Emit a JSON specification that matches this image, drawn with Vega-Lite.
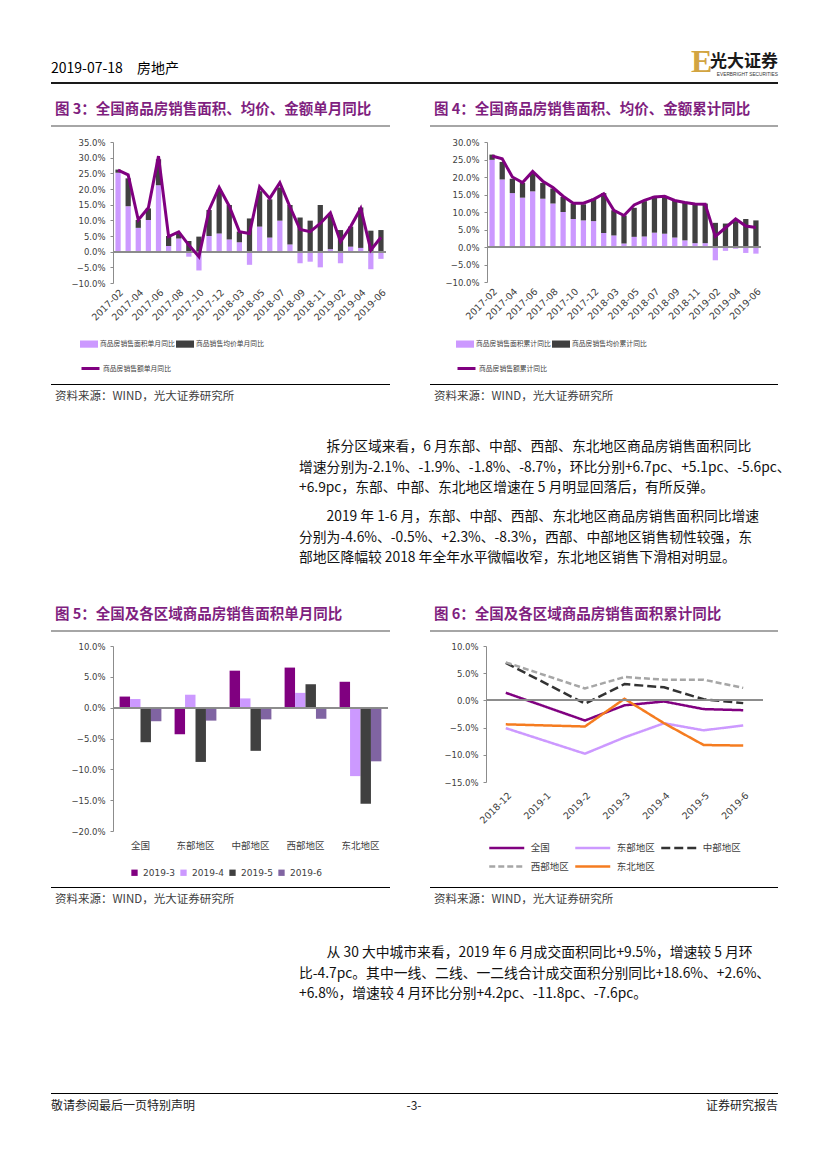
{
"$schema": "https://vega.github.io/schema/vega-lite/v6.json",
"background": "white",
"padding": 0,
"spacing": 0,
"bounds": "flush",
"resolve": {"scale": {"color": "independent", "stroke": "independent", "strokeDash": "independent"}, "legend": {"color": "independent", "stroke": "independent", "strokeDash": "independent"}},
"config": {
  "view": {"stroke": null},
  "font": "Noto Sans CJK SC",
  "title": {"anchor": "start", "frame": "group", "fontWeight": "normal", "font": "Noto Sans CJK SC", "color": "#000000"},
  "axis": {"labelFont": "DejaVu Sans", "labelColor": "#404040", "labelOverlap": false},
  "legend": {"labelFont": "Noto Sans CJK SC", "labelColor": "#404040", "padding": 0}
},
"vconcat": [
  {"width": 827, "height": 82, "view": {"fill": "white", "stroke": null}, "data": {"values": [{}]}, "mark": {"type": "point", "opacity": 0}, "encoding": {}},
  {"hconcat": [
    {"width": 48, "height": 2, "data": {"values": [{}]}, "mark": {"type": "point", "opacity": 0}, "encoding": {}},
    {"width": 640, "height": 2, "view": {"fill": "#1a1a1a", "stroke": null}, "title": {"text": "2019-07-18\u3000房地产", "offset": 4, "font": "Liberation Sans Narrow, Noto Sans CJK SC", "fontSize": 14}, "data": {"values": [{}]}, "mark": {"type": "point", "opacity": 0}, "encoding": {}},
    {"width": 15, "height": 2, "view": {"fill": "#1a1a1a", "stroke": null}, "title": {"text": "E", "offset": 1, "font": "Liberation Sans Narrow", "fontSize": 32, "fontWeight": "bold", "color": "#D2A441"}, "data": {"values": [{}]}, "mark": {"type": "point", "opacity": 0}, "encoding": {}},
    {"width": 72, "height": 2, "view": {"fill": "#1a1a1a", "stroke": null}, "title": {"text": "光大证券", "subtitle": "EVERBRIGHT SECURITIES", "anchor": "end", "offset": 2, "fontSize": 17, "fontWeight": "bold", "color": "#1a1a1a", "subtitleFont": "Liberation Sans", "subtitleFontSize": 4.8, "subtitleColor": "#333333", "subtitlePadding": 1}, "data": {"values": [{}]}, "mark": {"type": "point", "opacity": 0}, "encoding": {}}
  ], "spacing": 0, "bounds": "flush"},
  {"width": 1, "height": 43, "data": {"values": [{}]}, "mark": {"type": "point", "opacity": 0}, "encoding": {}},
  {"hconcat": [
    {"width": 8, "height": 2, "data": {"values": [{}]}, "mark": {"type": "point", "opacity": 0}, "encoding": {}},
    {"width": 339, "height": 2, "view": {"fill": "#A6A6A6", "stroke": null}, "title": {"text": "图 3：全国商品房销售面积、均价、金额单月同比", "offset": 6, "dx": 4, "fontSize": 14.5, "fontWeight": "bold", "color": "#7F1F7F"}, "data": {"values": [{}]}, "mark": {"type": "point", "opacity": 0}, "encoding": {}},
    {"width": 348, "height": 2, "view": {"fill": "#A6A6A6", "stroke": null}, "title": {"text": "图 4：全国商品房销售面积、均价、金额累计同比", "offset": 6, "dx": 4, "fontSize": 14.5, "fontWeight": "bold", "color": "#7F1F7F"}, "data": {"values": [{}]}, "mark": {"type": "point", "opacity": 0}, "encoding": {}}
  ], "spacing": 40, "bounds": "flush"},
  {"width": 1, "height": 17, "data": {"values": [{}]}, "mark": {"type": "point", "opacity": 0}, "encoding": {}},
  {"hconcat": [
    {"width": 9, "height": 1, "data": {"values": [{}]}, "mark": {"type": "point", "opacity": 0}, "encoding": {}},
    {"width": 273, "height": 141,
     "data": {"values": [
      {"m":"2017-02","area":25.2,"price":1.0,"amount":26.0},
      {"m":"2017-03","area":14.5,"price":8.9,"amount":24.5},
      {"m":"2017-04","area":7.6,"price":2.5,"amount":10.1},
      {"m":"2017-05","area":10.1,"price":3.7,"amount":14.0},
      {"m":"2017-06","area":21.2,"price":8.3,"amount":30.5},
      {"m":"2017-07","area":1.8,"price":3.2,"amount":4.8},
      {"m":"2017-08","area":4.2,"price":1.6,"amount":6.3},
      {"m":"2017-09","area":-1.6,"price":3.4,"amount":2.1},
      {"m":"2017-10","area":-6.0,"price":4.8,"amount":-1.6},
      {"m":"2017-11","area":5.0,"price":8.3,"amount":13.3},
      {"m":"2017-12","area":5.8,"price":14.1,"amount":20.5},
      {"m":"2018-02","area":3.9,"price":11.0,"amount":14.5},
      {"m":"2018-03","area":3.0,"price":3.4,"amount":6.4},
      {"m":"2018-04","area":-4.2,"price":10.6,"amount":5.8},
      {"m":"2018-05","area":8.0,"price":11.3,"amount":20.7},
      {"m":"2018-06","area":4.5,"price":12.2,"amount":17.0},
      {"m":"2018-07","area":9.9,"price":10.6,"amount":22.0},
      {"m":"2018-08","area":2.3,"price":12.6,"amount":14.3},
      {"m":"2018-09","area":-3.7,"price":10.9,"amount":7.1},
      {"m":"2018-10","area":-3.2,"price":9.9,"amount":6.4},
      {"m":"2018-11","area":-5.0,"price":14.9,"amount":9.0},
      {"m":"2018-12","area":0.8,"price":10.9,"amount":12.4},
      {"m":"2019-02","area":-3.7,"price":6.9,"amount":3.2},
      {"m":"2019-03","area":1.6,"price":6.4,"amount":8.0},
      {"m":"2019-04","area":1.2,"price":12.9,"amount":13.8},
      {"m":"2019-05","area":-5.6,"price":6.7,"amount":0.5},
      {"m":"2019-06","area":-2.3,"price":6.9,"amount":4.6}
     ]},
     "resolve": {"axis": {"y": "independent"}},
     "layer": [
      {"transform": [{"fold": ["area", "price"], "as": ["s", "v"]}],
       "mark": {"type": "bar"},
       "encoding": {
        "x": {"field": "m", "type": "ordinal", "scale": {"paddingInner": 0.48, "paddingOuter": 0.24},
              "axis": {"title": null, "domain": false, "ticks": false, "labelAngle": -45, "labelFontSize": 9.5, "labelPadding": 4, "labelOverlap": false,
                       "values": ["2017-02","2017-04","2017-06","2017-08","2017-10","2017-12","2018-03","2018-05","2018-07","2018-09","2018-11","2019-02","2019-04","2019-06"]}},
        "y": {"field": "v", "type": "quantitative", "scale": {"domain": [-10, 35], "nice": false, "zero": false},
              "axis": {"title": null, "grid": false, "domainColor": "#8c8c8c", "tickColor": "#8c8c8c", "tickSize": 3, "labelFontSize": 8.5, "labelPadding": 5, "labelOverlap": false, "values": [-10,-5,0,5,10,15,20,25,30,35], "labelExpr": "format(datum.value, '.1f') + '%'"}},
        "order": {"field": "s", "type": "ordinal", "sort": "ascending"},
        "color": {"field": "s", "type": "nominal", "scale": {"domain": ["area", "price"], "range": ["#CC99FF", "#404040"]},
                  "legend": {"title": null, "orient": "none", "legendX": -33, "legendY": 193, "direction": "horizontal", "symbolType": "M-1,-0.4H1V0.4H-1Z", "symbolSize": 324, "symbolStrokeWidth": 0, "labelFontSize": 6.8, "labelOffset": 2, "columnPadding": 1, "labelLimit": 300,
                             "labelExpr": "datum.label == 'area' ? '商品房销售面积单月同比' : '商品销售均价单月同比'"}}
       }},
      {"mark": {"type": "rule", "color": "#8c8c8c", "strokeWidth": 1}, "encoding": {"y": {"datum": 0, "axis": null}}},
      {"mark": {"type": "line", "strokeWidth": 3},
       "encoding": {
        "x": {"field": "m", "type": "ordinal"},
        "y": {"field": "amount", "type": "quantitative", "axis": null},
        "stroke": {"datum": "商品房销售额单月同比", "type": "nominal", "scale": {"range": ["#800080"]},
                   "legend": {"title": null, "orient": "none", "legendX": -33, "legendY": 216, "symbolType": "stroke", "symbolSize": 324, "symbolStrokeWidth": 3, "labelFontSize": 6.8, "labelOffset": 2, "labelLimit": 300}}
       }}
     ]},
    {"width": 274, "height": 140,
     "data": {"values": [
      {"m":"2017-02","area":24.9,"price":1.5,"amount":26.0},
      {"m":"2017-03","area":19.3,"price":5.0,"amount":25.2},
      {"m":"2017-04","area":15.4,"price":4.1,"amount":20.0},
      {"m":"2017-05","area":14.1,"price":4.2,"amount":18.4},
      {"m":"2017-06","area":15.9,"price":5.2,"amount":21.6},
      {"m":"2017-07","area":13.8,"price":4.5,"amount":18.8},
      {"m":"2017-08","area":12.4,"price":4.3,"amount":17.0},
      {"m":"2017-09","area":10.0,"price":4.3,"amount":14.5},
      {"m":"2017-10","area":8.0,"price":4.4,"amount":12.5},
      {"m":"2017-11","area":7.6,"price":4.6,"amount":12.5},
      {"m":"2017-12","area":7.4,"price":6.4,"amount":13.6},
      {"m":"2018-02","area":4.0,"price":11.4,"amount":15.2},
      {"m":"2018-03","area":3.3,"price":7.2,"amount":10.5},
      {"m":"2018-04","area":1.0,"price":8.0,"amount":9.0},
      {"m":"2018-05","area":2.9,"price":8.3,"amount":12.0},
      {"m":"2018-06","area":3.0,"price":10.1,"amount":13.3},
      {"m":"2018-07","area":4.1,"price":10.5,"amount":14.3},
      {"m":"2018-08","area":3.8,"price":10.8,"amount":14.5},
      {"m":"2018-09","area":2.7,"price":10.6,"amount":13.3},
      {"m":"2018-10","area":1.9,"price":11.0,"amount":12.7},
      {"m":"2018-11","area":1.1,"price":11.3,"amount":12.3},
      {"m":"2018-12","area":1.1,"price":11.3,"amount":12.2},
      {"m":"2019-02","area":-3.8,"price":6.9,"amount":3.0},
      {"m":"2019-03","area":-1.1,"price":6.7,"amount":5.5},
      {"m":"2019-04","area":-0.5,"price":7.4,"amount":8.0},
      {"m":"2019-05","area":-1.7,"price":8.0,"amount":6.0},
      {"m":"2019-06","area":-1.9,"price":7.6,"amount":5.6}
     ]},
     "resolve": {"axis": {"y": "independent"}},
     "layer": [
      {"transform": [{"fold": ["area", "price"], "as": ["s", "v"]}],
       "mark": {"type": "bar"},
       "encoding": {
        "x": {"field": "m", "type": "ordinal", "scale": {"paddingInner": 0.48, "paddingOuter": 0.24},
              "axis": {"title": null, "domain": false, "ticks": false, "labelAngle": -45, "labelFontSize": 9.5, "labelPadding": 4, "labelOverlap": false,
                       "values": ["2017-02","2017-04","2017-06","2017-08","2017-10","2017-12","2018-03","2018-05","2018-07","2018-09","2018-11","2019-02","2019-04","2019-06"]}},
        "y": {"field": "v", "type": "quantitative", "scale": {"domain": [-10, 30], "nice": false, "zero": false},
              "axis": {"title": null, "grid": false, "domainColor": "#8c8c8c", "tickColor": "#8c8c8c", "tickSize": 3, "labelFontSize": 8.5, "labelPadding": 5, "labelOverlap": false, "values": [-10,-5,0,5,10,15,20,25,30], "labelExpr": "format(datum.value, '.1f') + '%'"}},
        "order": {"field": "s", "type": "ordinal", "sort": "ascending"},
        "color": {"field": "s", "type": "nominal", "scale": {"domain": ["area", "price"], "range": ["#CC99FF", "#404040"]},
                  "legend": {"title": null, "orient": "none", "legendX": -31, "legendY": 193, "direction": "horizontal", "symbolType": "M-1,-0.4H1V0.4H-1Z", "symbolSize": 324, "symbolStrokeWidth": 0, "labelFontSize": 6.8, "labelOffset": 2, "columnPadding": 1, "labelLimit": 300,
                             "labelExpr": "datum.label == 'area' ? '商品房销售面积累计同比' : '商品房销售均价累计同比'"}}
       }},
      {"mark": {"type": "rule", "color": "#8c8c8c", "strokeWidth": 1}, "encoding": {"y": {"datum": 0, "axis": null}}},
      {"mark": {"type": "line", "strokeWidth": 3},
       "encoding": {
        "x": {"field": "m", "type": "ordinal"},
        "y": {"field": "amount", "type": "quantitative", "axis": null},
        "stroke": {"datum": "商品房销售额累计同比", "type": "nominal", "scale": {"range": ["#800080"]},
                   "legend": {"title": null, "orient": "none", "legendX": -31, "legendY": 216, "symbolType": "stroke", "symbolSize": 324, "symbolStrokeWidth": 3, "labelFontSize": 6.8, "labelOffset": 2, "labelLimit": 300}}
       }}
     ]}
  ], "spacing": 101, "bounds": "flush",
  "resolve": {"scale": {"color": "independent", "stroke": "independent"}, "legend": {"color": "independent", "stroke": "independent"}}},
  {"width": 1, "height": 242, "data": {"values": [{}]}, "mark": {"type": "point", "opacity": 0}, "encoding": {}},
  {"hconcat": [
    {"width": 8, "height": 1, "data": {"values": [{}]}, "mark": {"type": "point", "opacity": 0}, "encoding": {}},
    {"width": 339, "height": 1, "view": {"fill": "#000000", "stroke": null}, "title": {"text": "资料来源：WIND，光大证券研究所", "orient": "bottom", "offset": 4, "dx": 4, "fontSize": 11.5, "color": "#404040"}, "data": {"values": [{}]}, "mark": {"type": "point", "opacity": 0}, "encoding": {}},
    {"width": 348, "height": 1, "view": {"fill": "#000000", "stroke": null}, "title": {"text": "资料来源：WIND，光大证券研究所", "orient": "bottom", "offset": 4, "dx": 4, "fontSize": 11.5, "color": "#404040"}, "data": {"values": [{}]}, "mark": {"type": "point", "opacity": 0}, "encoding": {}}
  ], "spacing": 40, "bounds": "flush"},
  {"width": 1, "height": 52.5, "data": {"values": [{}]}, "mark": {"type": "point", "opacity": 0}, "encoding": {}},
  {"hconcat": [
    {"width": 296, "height": 61, "data": {"values": [{}]}, "mark": {"type": "point", "opacity": 0}, "encoding": {}},
    {"width": 479, "height": 61,
     "data": {"values": [
      {"i": 0, "t": "拆分区域来看，6 月东部、中部、西部、东北地区商品房销售面积同比"},
      {"i": 1, "t": "增速分别为-2.1%、-1.9%、-1.8%、-8.7%，环比分别+6.7pc、+5.1pc、-5.6pc、"},
      {"i": 2, "t": "+6.9pc，东部、中部、东北地区增速在 5 月明显回落后，有所反弹。"}
     ]},
     "encoding": {"x": {"value": 0}, "y": {"field": "i", "type": "ordinal", "scale": {"type": "point", "padding": 0.5}, "axis": null}, "text": {"field": "t"}},
     "layer": [
      {"transform": [{"filter": "datum.i == 0"}], "mark": {"type": "text", "align": "left", "baseline": "middle", "font": "Noto Sans CJK SC", "fontSize": 13.8, "color": "#111111", "dx": 27.6}},
      {"transform": [{"filter": "datum.i > 0"}], "mark": {"type": "text", "align": "left", "baseline": "middle", "font": "Noto Sans CJK SC", "fontSize": 13.8, "color": "#111111"}}
     ]}
  ], "spacing": 0, "bounds": "flush"},
  {"width": 1, "height": 70, "data": {"values": [{}]}, "mark": {"type": "point", "opacity": 0}, "encoding": {}},
  {"hconcat": [
    {"width": 296, "height": 61, "data": {"values": [{}]}, "mark": {"type": "point", "opacity": 0}, "encoding": {}},
    {"width": 479, "height": 61,
     "data": {"values": [
      {"i": 0, "t": "2019 年 1-6 月，东部、中部、西部、东北地区商品房销售面积同比增速"},
      {"i": 1, "t": "分别为-4.6%、-0.5%、+2.3%、-8.3%，西部、中部地区销售韧性较强，东"},
      {"i": 2, "t": "部地区降幅较 2018 年全年水平微幅收窄，东北地区销售下滑相对明显。"}
     ]},
     "encoding": {"x": {"value": 0}, "y": {"field": "i", "type": "ordinal", "scale": {"type": "point", "padding": 0.5}, "axis": null}, "text": {"field": "t"}},
     "layer": [
      {"transform": [{"filter": "datum.i == 0"}], "mark": {"type": "text", "align": "left", "baseline": "middle", "font": "Noto Sans CJK SC", "fontSize": 13.8, "color": "#111111", "dx": 27.6}},
      {"transform": [{"filter": "datum.i > 0"}], "mark": {"type": "text", "align": "left", "baseline": "middle", "font": "Noto Sans CJK SC", "fontSize": 13.8, "color": "#111111"}}
     ]}
  ], "spacing": 0, "bounds": "flush"},
  {"width": 1, "height": 122.5, "data": {"values": [{}]}, "mark": {"type": "point", "opacity": 0}, "encoding": {}},
  {"hconcat": [
    {"width": 8, "height": 2, "data": {"values": [{}]}, "mark": {"type": "point", "opacity": 0}, "encoding": {}},
    {"width": 339, "height": 2, "view": {"fill": "#A6A6A6", "stroke": null}, "title": {"text": "图 5：全国及各区域商品房销售面积单月同比", "offset": 6, "dx": 4, "fontSize": 14.5, "fontWeight": "bold", "color": "#7F1F7F"}, "data": {"values": [{}]}, "mark": {"type": "point", "opacity": 0}, "encoding": {}},
    {"width": 348, "height": 2, "view": {"fill": "#A6A6A6", "stroke": null}, "title": {"text": "图 6：全国及各区域商品房销售面积累计同比", "offset": 6, "dx": 4, "fontSize": 14.5, "fontWeight": "bold", "color": "#7F1F7F"}, "data": {"values": [{}]}, "mark": {"type": "point", "opacity": 0}, "encoding": {}}
  ], "spacing": 40, "bounds": "flush"},
  {"width": 1, "height": 16, "data": {"values": [{}]}, "mark": {"type": "point", "opacity": 0}, "encoding": {}},
  {"hconcat": [
    {"width": 12, "height": 1, "data": {"values": [{}]}, "mark": {"type": "point", "opacity": 0}, "encoding": {}},
    {"width": 275, "height": 185,
     "data": {"values": [
      {"r":"全国","m":"2019-3","v":1.8},{"r":"全国","m":"2019-4","v":1.4},{"r":"全国","m":"2019-5","v":-5.6},{"r":"全国","m":"2019-6","v":-2.2},
      {"r":"东部地区","m":"2019-3","v":-4.3},{"r":"东部地区","m":"2019-4","v":2.1},{"r":"东部地区","m":"2019-5","v":-8.8},{"r":"东部地区","m":"2019-6","v":-2.1},
      {"r":"中部地区","m":"2019-3","v":6.0},{"r":"中部地区","m":"2019-4","v":1.5},{"r":"中部地区","m":"2019-5","v":-7.0},{"r":"中部地区","m":"2019-6","v":-1.9},
      {"r":"西部地区","m":"2019-3","v":6.5},{"r":"西部地区","m":"2019-4","v":2.4},{"r":"西部地区","m":"2019-5","v":3.8},{"r":"西部地区","m":"2019-6","v":-1.8},
      {"r":"东北地区","m":"2019-3","v":4.2},{"r":"东北地区","m":"2019-4","v":-11.1},{"r":"东北地区","m":"2019-5","v":-15.6},{"r":"东北地区","m":"2019-6","v":-8.7}
     ]},
     "resolve": {"axis": {"y": "independent"}},
     "layer": [
      {"mark": {"type": "bar"},
       "encoding": {
        "x": {"field": "r", "type": "nominal", "sort": ["全国","东部地区","中部地区","西部地区","东北地区"], "scale": {"paddingInner": 0.24, "paddingOuter": 0.12},
              "axis": {"title": null, "domain": false, "ticks": false, "labelAngle": 0, "labelFont": "Noto Sans CJK SC", "labelFontSize": 9.5, "labelPadding": 9, "labelOverlap": false}},
        "xOffset": {"field": "m", "type": "nominal", "sort": ["2019-3","2019-4","2019-5","2019-6"]},
        "y": {"field": "v", "type": "quantitative", "scale": {"domain": [-20, 10], "nice": false},
              "axis": {"title": null, "grid": false, "domainColor": "#8c8c8c", "tickColor": "#8c8c8c", "tickSize": 3, "labelFontSize": 8.5, "labelPadding": 5, "labelOverlap": false, "values": [-20,-15,-10,-5,0,5,10], "labelExpr": "format(datum.value, '.1f') + '%'"}},
        "color": {"field": "m", "type": "nominal", "scale": {"domain": ["2019-3","2019-4","2019-5","2019-6"], "range": ["#800080","#CC99FF","#404040","#8064A2"]},
                  "legend": {"title": null, "orient": "none", "legendX": 17, "legendY": 222, "direction": "horizontal", "symbolType": "square", "symbolSize": 40, "symbolStrokeWidth": 0, "labelFont": "DejaVu Sans", "labelFontSize": 9, "labelOffset": 4, "columnPadding": 4}}
       }},
      {"mark": {"type": "rule", "color": "#8c8c8c", "strokeWidth": 1}, "encoding": {"y": {"datum": 0, "axis": null}}}
     ]},
    {"width": 277, "height": 136,
     "data": {"values": [
      {"r":"全国","m":"2018-12","v":1.4},{"r":"全国","m":"2019-2","v":-3.7},{"r":"全国","m":"2019-3","v":-0.9},{"r":"全国","m":"2019-4","v":-0.2},{"r":"全国","m":"2019-5","v":-1.6},{"r":"全国","m":"2019-6","v":-1.8},
      {"r":"东部地区","m":"2018-12","v":-5.1},{"r":"东部地区","m":"2019-2","v":-9.8},{"r":"东部地区","m":"2019-3","v":-6.8},{"r":"东部地区","m":"2019-4","v":-4.2},{"r":"东部地区","m":"2019-5","v":-5.5},{"r":"东部地区","m":"2019-6","v":-4.6},
      {"r":"中部地区","m":"2018-12","v":6.9},{"r":"中部地区","m":"2019-2","v":-0.6},{"r":"中部地区","m":"2019-3","v":3.0},{"r":"中部地区","m":"2019-4","v":2.4},{"r":"中部地区","m":"2019-5","v":0.2},{"r":"中部地区","m":"2019-6","v":-0.5},
      {"r":"西部地区","m":"2018-12","v":7.0},{"r":"西部地区","m":"2019-2","v":2.2},{"r":"西部地区","m":"2019-3","v":4.3},{"r":"西部地区","m":"2019-4","v":3.8},{"r":"西部地区","m":"2019-5","v":3.8},{"r":"西部地区","m":"2019-6","v":2.3},
      {"r":"东北地区","m":"2018-12","v":-4.4},{"r":"东北地区","m":"2019-2","v":-4.8},{"r":"东北地区","m":"2019-3","v":0.3},{"r":"东北地区","m":"2019-4","v":-4.2},{"r":"东北地区","m":"2019-5","v":-8.2},{"r":"东北地区","m":"2019-6","v":-8.3}
     ]},
     "resolve": {"axis": {"y": "independent"}},
     "layer": [
      {"mark": {"type": "line", "strokeWidth": 2.5},
       "encoding": {
        "x": {"field": "m", "type": "ordinal", "scale": {"type": "point", "padding": 0.5, "domain": ["2018-12","2019-1","2019-2","2019-3","2019-4","2019-5","2019-6"]},
              "axis": {"title": null, "domain": false, "ticks": false, "labelAngle": -45, "labelFontSize": 9.5, "labelPadding": 8, "labelOverlap": false}},
        "y": {"field": "v", "type": "quantitative", "scale": {"domain": [-15, 10], "nice": false},
              "axis": {"title": null, "grid": false, "domainColor": "#8c8c8c", "tickColor": "#8c8c8c", "tickSize": 3, "labelFontSize": 8.5, "labelPadding": 5, "labelOverlap": false, "values": [-15,-10,-5,0,5,10], "labelExpr": "format(datum.value, '.1f') + '%'"}},
        "color": {"field": "r", "type": "nominal", "scale": {"domain": ["全国","东部地区","中部地区","西部地区","东北地区"], "range": ["#800080","#CC99FF","#333333","#A6A6A6","#F57C20"]},
                  "legend": {"title": null, "orient": "none", "legendX": 10.75, "legendY": 192, "direction": "horizontal", "columns": 3, "symbolType": "M-2,0H2", "symbolSize": 306, "symbolStrokeWidth": 2.5, "labelFontSize": 9.5, "labelOffset": 14, "columnPadding": 0, "rowPadding": 3.5}},
        "strokeDash": {"field": "r", "type": "nominal", "scale": {"domain": ["全国","东部地区","中部地区","西部地区","东北地区"], "range": [[1,0],[1,0],[9,4],[6,3],[1,0]]},
                  "legend": {"title": null, "orient": "none", "legendX": 10.75, "legendY": 192, "direction": "horizontal", "columns": 3, "symbolType": "M-2,0H2", "symbolSize": 306, "symbolStrokeWidth": 2.5, "labelFontSize": 9.5, "labelOffset": 14, "columnPadding": 0, "rowPadding": 3.5}}
       }},
      {"mark": {"type": "rule", "color": "#8c8c8c", "strokeWidth": 1}, "encoding": {"y": {"datum": 0, "axis": null}}}
     ]}
  ], "spacing": 98, "bounds": "flush",
  "resolve": {"scale": {"color": "independent", "strokeDash": "independent"}, "legend": {"color": "independent", "strokeDash": "independent"}}},
  {"width": 1, "height": 241, "data": {"values": [{}]}, "mark": {"type": "point", "opacity": 0}, "encoding": {}},
  {"hconcat": [
    {"width": 8, "height": 1, "data": {"values": [{}]}, "mark": {"type": "point", "opacity": 0}, "encoding": {}},
    {"width": 339, "height": 1, "view": {"fill": "#000000", "stroke": null}, "title": {"text": "资料来源：WIND，光大证券研究所", "orient": "bottom", "offset": 4, "dx": 4, "fontSize": 11.5, "color": "#404040"}, "data": {"values": [{}]}, "mark": {"type": "point", "opacity": 0}, "encoding": {}},
    {"width": 348, "height": 1, "view": {"fill": "#000000", "stroke": null}, "title": {"text": "资料来源：WIND，光大证券研究所", "orient": "bottom", "offset": 4, "dx": 4, "fontSize": 11.5, "color": "#404040"}, "data": {"values": [{}]}, "mark": {"type": "point", "opacity": 0}, "encoding": {}}
  ], "spacing": 40, "bounds": "flush"},
  {"width": 1, "height": 55.5, "data": {"values": [{}]}, "mark": {"type": "point", "opacity": 0}, "encoding": {}},
  {"hconcat": [
    {"width": 296, "height": 61, "data": {"values": [{}]}, "mark": {"type": "point", "opacity": 0}, "encoding": {}},
    {"width": 479, "height": 61,
     "data": {"values": [
      {"i": 0, "t": "从 30 大中城市来看，2019 年 6 月成交面积同比+9.5%，增速较 5 月环"},
      {"i": 1, "t": "比-4.7pc。其中一线、二线、一二线合计成交面积分别同比+18.6%、+2.6%、"},
      {"i": 2, "t": "+6.8%，增速较 4 月环比分别+4.2pc、-11.8pc、-7.6pc。"}
     ]},
     "encoding": {"x": {"value": 0}, "y": {"field": "i", "type": "ordinal", "scale": {"type": "point", "padding": 0.5}, "axis": null}, "text": {"field": "t"}},
     "layer": [
      {"transform": [{"filter": "datum.i == 0"}], "mark": {"type": "text", "align": "left", "baseline": "middle", "font": "Noto Sans CJK SC", "fontSize": 13.8, "color": "#111111", "dx": 27.6}},
      {"transform": [{"filter": "datum.i > 0"}], "mark": {"type": "text", "align": "left", "baseline": "middle", "font": "Noto Sans CJK SC", "fontSize": 13.8, "color": "#111111"}}
     ]}
  ], "spacing": 0, "bounds": "flush"},
  {"width": 1, "height": 149.5, "data": {"values": [{}]}, "mark": {"type": "point", "opacity": 0}, "encoding": {}},
  {"hconcat": [
    {"width": 48, "height": 1, "data": {"values": [{}]}, "mark": {"type": "point", "opacity": 0}, "encoding": {}},
    {"width": 242, "height": 1, "view": {"fill": "#000000", "stroke": null}, "title": {"text": "敬请参阅最后一页特别声明", "orient": "bottom", "anchor": "start", "offset": 5, "fontSize": 12, "color": "#222222"}, "data": {"values": [{}]}, "mark": {"type": "point", "opacity": 0}, "encoding": {}},
    {"width": 242, "height": 1, "view": {"fill": "#000000", "stroke": null}, "title": {"text": "-3-", "orient": "bottom", "anchor": "middle", "offset": 5, "fontSize": 12, "color": "#222222"}, "data": {"values": [{}]}, "mark": {"type": "point", "opacity": 0}, "encoding": {}},
    {"width": 243, "height": 1, "view": {"fill": "#000000", "stroke": null}, "title": {"text": "证券研究报告", "orient": "bottom", "anchor": "end", "offset": 5, "fontSize": 12, "color": "#222222"}, "data": {"values": [{}]}, "mark": {"type": "point", "opacity": 0}, "encoding": {}}
  ], "spacing": 0, "bounds": "flush"},
  {"width": 1, "height": 77, "data": {"values": [{}]}, "mark": {"type": "point", "opacity": 0}, "encoding": {}}
]
}
